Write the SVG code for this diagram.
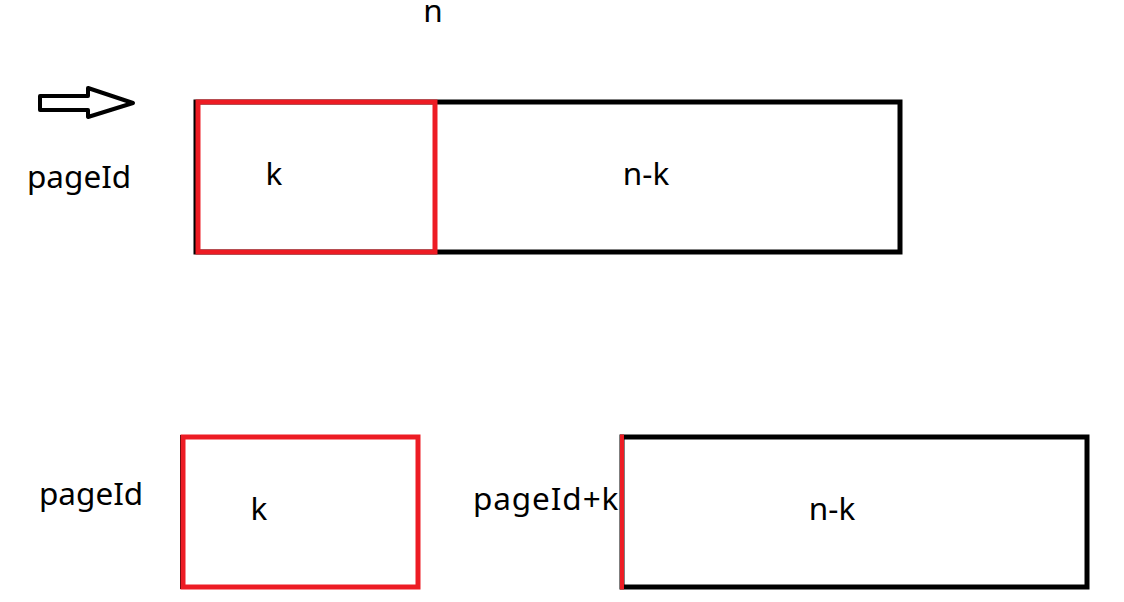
<svg xmlns="http://www.w3.org/2000/svg" width="1124" height="602" viewBox="0 0 1124 602">
<style>
.t{font-family:"Noto Sans","Open Sans","DejaVu Sans",sans-serif;font-size:31.5px;fill:#000}
.blk{fill:none;stroke:#000;stroke-width:5}
.red{fill:none;stroke:#ed1c24;stroke-width:5}
</style>
<rect width="1124" height="602" fill="#fff"/>
<g id="arrow"><polygon points="40,96 88,96 88,88 133,103 88,117 88,110 40,110" fill="none" stroke="#000" stroke-width="4" stroke-linejoin="round"/></g>
<g id="label-n"><text class="t" x="433" y="22" text-anchor="middle">n</text></g>
<g id="label-pageId-top"><text class="t" x="27" y="188">pageId</text></g>
<g id="top-block">
<rect class="blk" x="196" y="102" width="704" height="150"/>
<rect class="red" x="198" y="102" width="237" height="150"/>
<text class="t" x="274" y="185" text-anchor="middle">k</text>
<text class="t" x="646" y="185" text-anchor="middle">n-k</text>
</g>
<g id="label-pageId-bottom"><text class="t" x="39" y="505">pageId</text></g>
<g id="bottom-k">
<line x1="181" y1="435" x2="181" y2="589" stroke="#000" stroke-width="2"/>
<rect class="red" x="183" y="437" width="235" height="150"/>
<text class="t" x="259" y="520" text-anchor="middle">k</text>
</g>
<g id="label-pageId-k"><text class="t" x="473" y="510" letter-spacing="0.9">pageId+k</text></g>
<g id="bottom-nk">
<rect class="blk" x="622" y="437" width="465" height="150"/>
<line x1="622" y1="434.5" x2="622" y2="589.5" stroke="#ed1c24" stroke-width="4"/>
<text class="t" x="832" y="520" text-anchor="middle">n-k</text>
</g>
</svg>
